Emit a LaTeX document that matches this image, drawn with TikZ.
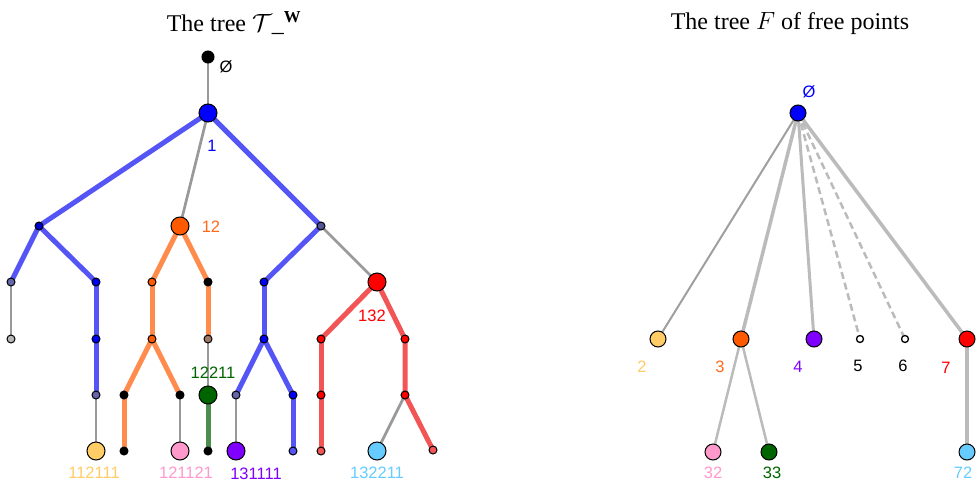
\documentclass[tikz,border=0pt]{standalone}
\usepackage{fontspec}
\setmainfont{Liberation Serif}
\newfontfamily\lab{Liberation Sans}
\usetikzlibrary{backgrounds}
\definecolor{eblue}{HTML}{5555F5}
\definecolor{eorange}{HTML}{FF8C4D}
\definecolor{ered}{HTML}{F25555}
\definecolor{egreen}{HTML}{4C8C4C}
\definecolor{egray}{HTML}{999999}
\definecolor{lgray}{HTML}{BBBBBB}
\definecolor{cblue}{HTML}{0000FF}
\definecolor{corange}{HTML}{FF5A00}
\definecolor{lorange}{HTML}{FF6A1A}
\definecolor{cred}{HTML}{FF0000}
\definecolor{cgreen}{HTML}{006400}
\definecolor{cyellow}{HTML}{FFCC66}
\definecolor{cpink}{HTML}{FF99CC}
\definecolor{cpurple}{HTML}{7F00FF}
\definecolor{clblue}{HTML}{66CCFF}
\definecolor{slate}{HTML}{6666AA}
\definecolor{dslate}{HTML}{555599}
\definecolor{brownish}{HTML}{A07868}
\begin{document}
\begin{tikzpicture}[x=1pt,y=-1pt,
  dot/.style={circle,draw=black,line width=1pt,inner sep=0pt,minimum size=8pt},
  big/.style={circle,draw=black,line width=1pt,inner sep=0pt,minimum size=18pt},
  rbig/.style={circle,draw=black,line width=1pt,inner sep=0pt,minimum size=16pt},
  open/.style={circle,draw=black,fill=white,line width=1.3pt,inner sep=0pt,minimum size=7pt},
  lbl/.style={font=\lab\fontsize{16.5}{17}\selectfont,inner sep=0pt},
  ttl/.style={font=\fontsize{24}{26}\selectfont,inner sep=0pt},
  fat/.style={line width=5pt},
  slim/.style={line width=2.7pt,draw=egray},
  redge/.style={line width=3pt,draw=lgray}]
\useasboundingbox (0,0) rectangle (980,485);

% titles
\node[ttl] (t1) at (234,23) {The tree $\mathcal{T}\_^{\mathbf{W}}$};
\node[ttl] (t2) at (790,24) {The tree $F$ of free points};

% ---------- left tree nodes ----------
\node[dot,fill=black,minimum size=12pt] (r0) at (208,57) {};
\node[big,fill=cblue] (n1) at (208,113) {};
\node[dot,fill=blue!80!black] (a) at (39,226) {};
\node[big,fill=corange] (n12) at (180,226) {};
\node[dot,fill=dslate] (b) at (321,226) {};

\node[dot,fill=slate] (a1) at (11,282) {};
\node[dot,fill=blue] (a2) at (96,282) {};
\node[dot,fill=corange] (c1) at (152,282) {};
\node[dot,fill=black] (c2) at (208,282) {};
\node[dot,fill=blue] (b1) at (264,282) {};
\node[big,fill=cred] (n132) at (377,282) {};

\node[dot,fill=egray!70] (a1l) at (11,339) {};
\node[dot,fill=blue] (a2l) at (96,339) {};
\node[dot,fill=corange] (c1l) at (152,339) {};
\node[dot,fill=brownish] (c2l) at (208,339) {};
\node[dot,fill=blue] (b1l) at (264,339) {};
\node[dot,fill=cred] (d1) at (321,339) {};
\node[dot,fill=cred] (d2) at (405,339) {};

\node[dot,fill=slate] (a2m) at (96,395) {};
\node[dot,fill=black] (e1) at (124,395) {};
\node[dot,fill=black] (e2) at (180,395) {};
\node[big,fill=cgreen] (n12211) at (208,395) {};
\node[dot,fill=slate] (f1) at (236,395) {};
\node[dot,fill=blue] (f2) at (293,395) {};
\node[dot,fill=cred] (d1m) at (321,395) {};
\node[dot,fill=cred] (d2m) at (405,395) {};

\node[big,fill=cyellow] (L1) at (96,451) {};
\node[dot,fill=black] (e1l) at (124,451) {};
\node[big,fill=cpink] (L2) at (180,451) {};
\node[dot,fill=black] (g) at (208,451) {};
\node[big,fill=cpurple] (L3) at (236,451) {};
\node[dot,fill=eblue] (f2l) at (293,451) {};
\node[dot,fill=ered] (d1l) at (321,451) {};
\node[big,fill=clblue] (L4) at (377,451) {};
\node[dot,fill=ered] (d2l) at (433,450) {};

% left labels
\node[lbl] (lr0) at (226,67) {Ø};
\node[lbl,text=cblue] (l1) at (212,146) {1};
\node[lbl,text=lorange] (l12) at (211,227) {12};
\node[lbl,text=cred] (l132) at (372,316) {132};
\node[lbl,text=cgreen] (l12211) at (213,373) {12211};
\node[lbl,text=cyellow] (lL1) at (94,473) {112111};
\node[lbl,text=cpink] (lL2) at (186,473) {121121};
\node[lbl,text=cpurple] (lL3) at (256,474) {131111};
\node[lbl,text=clblue] (lL4) at (377,473) {132211};

% ---------- right tree nodes ----------
\node[rbig,fill=cblue] (R) at (798,113) {};
\node[rbig,fill=cyellow] (R2) at (658,339) {};
\node[rbig,fill=corange] (R3) at (741,339) {};
\node[rbig,fill=cpurple] (R4) at (814,339) {};
\node[open] (R5) at (860,339) {};
\node[open] (R6) at (905,339) {};
\node[rbig,fill=cred] (R7) at (967,339) {};
\node[rbig,fill=cpink] (R32) at (713,452) {};
\node[rbig,fill=cgreen] (R33) at (769,452) {};
\node[rbig,fill=clblue] (R72) at (967,452) {};

\node[lbl,text=cblue] (lR) at (809,92) {Ø};
\node[lbl,text=cyellow] (lR2) at (642,367) {2};
\node[lbl,text=lorange] (lR3) at (720,367) {3};
\node[lbl,text=cpurple] (lR4) at (798,367) {4};
\node[lbl] (lR5) at (858,366) {5};
\node[lbl] (lR6) at (903,366) {6};
\node[lbl,text=cred] (lR7) at (946,368) {7};
\node[lbl,text=cpink] (lR32) at (713,473) {32};
\node[lbl,text=cgreen] (lR33) at (772,473) {33};
\node[lbl,text=clblue] (lR72) at (963,473) {72};

% ---------- edges ----------
\begin{scope}[on background layer]
\draw[slim] (r0.center) -- (n1.center);
\draw[fat,eblue] (n1.center) -- (a.center);
\draw[slim] (n1.center) -- (n12.center);
\draw[fat,eblue] (n1.center) -- (b.center);
\draw[fat,eblue] (a1.center) -- (a.center) -- (a2.center);
\draw[slim] (a1.center) -- (a1l.center);
\draw[fat,eblue] (a2.center) -- (a2l.center) -- (a2m.center);
\draw[slim] (a2m.center) -- (L1.center);
\draw[fat,eorange] (c1.center) -- (n12.center) -- (c2.center);
\draw[fat,eorange] (c1.center) -- (c1l.center);
\draw[fat,eorange] (e1.center) -- (c1l.center) -- (e2.center);
\draw[fat,eorange] (e1.center) -- (e1l.center);
\draw[slim] (e2.center) -- (L2.center);
\draw[fat,eorange] (c2.center) -- (c2l.center);
\draw[slim] (c2l.center) -- (n12211.center);
\draw[fat,egreen] (n12211.center) -- (g.center);
\draw[fat,eblue] (b.center) -- (b1.center);
\draw[slim] (b.center) -- (n132.center);
\draw[fat,eblue] (b1.center) -- (b1l.center);
\draw[fat,eblue] (f1.center) -- (b1l.center) -- (f2.center);
\draw[slim] (f1.center) -- (L3.center);
\draw[fat,eblue] (f2.center) -- (f2l.center);
\draw[fat,ered] (d1.center) -- (n132.center) -- (d2.center);
\draw[fat,ered] (d1.center) -- (d1m.center) -- (d1l.center);
\draw[fat,ered] (d2.center) -- (d2m.center) -- (d2l.center);
\draw[slim] (d2m.center) -- (L4.center);

\draw[line width=2pt,draw=lgray!85!black] (R.center) -- (R2.center);
\draw[redge,line width=3.5pt] (R.center) -- (R3.center);
\draw[redge] (R.center) -- (R4.center);
\draw[redge,line width=2.5pt,dashed,dash pattern=on 7pt off 4pt] (R.center) -- (R5.center);
\draw[redge,line width=2.5pt,dashed,dash pattern=on 7pt off 4pt] (R.center) -- (R6.center);
\draw[redge,line width=3.5pt] (R.center) -- (R7.center);
\draw[redge,line width=2.5pt] (R3.center) -- (R32.center);
\draw[redge,line width=2.5pt] (R3.center) -- (R33.center);
\draw[redge,line width=3.5pt] (R7.center) -- (R72.center);
\end{scope}
\end{tikzpicture}
\end{document}
